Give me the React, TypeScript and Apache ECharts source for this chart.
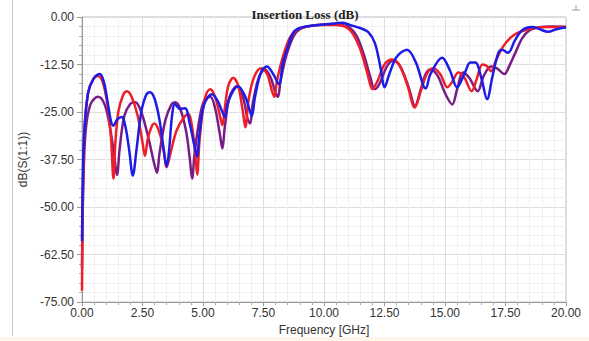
import React, { useEffect, useRef } from "react";
import * as echarts from "echarts";

const xTicks = [0, 2.5, 5, 7.5, 10, 12.5, 15, 17.5, 20];
const yTicks = [0, -12.5, -25, -37.5, -50, -62.5, -75];

const redFreq = [0, 0.03, 0.1, 0.25, 0.45, 0.66, 0.85, 1.05, 1.2, 1.3, 1.38, 1.5, 1.7, 1.86, 2.05, 2.3, 2.5, 2.6, 2.72, 2.9, 3.0, 3.15, 3.35, 3.5, 3.65, 3.9, 4.2, 4.4, 4.55, 4.68, 4.76, 4.85, 5.0, 5.15, 5.3, 5.5, 5.7, 5.8, 5.9, 6.05, 6.25, 6.45, 6.65, 6.75, 6.88, 7.1, 7.4, 7.65, 7.85, 7.95, 8.05, 8.3, 8.6, 8.9, 9.2, 9.8, 10.5, 10.9, 11.2, 11.5, 11.8, 12.0, 12.2, 12.5, 12.8, 13.1, 13.45, 13.75, 14.0, 14.25, 14.5, 14.8, 15.1, 15.3, 15.55, 15.8, 16.1, 16.3, 16.55, 16.75, 16.9, 17.1, 17.4, 17.7, 18.0, 18.4, 18.8, 19.2, 19.6, 20];
const redDb = [-72, -50, -30, -20, -16.5, -15.5, -17, -23, -32, -42.5, -33, -25, -20.5, -19.5, -21, -26, -33, -36.5, -32, -28.5, -28, -29.5, -34, -39.5, -36, -30, -26.5, -25.5, -29, -36, -41.5, -33, -24, -20, -19, -21, -26, -28.5, -24, -18, -16, -18, -25, -29, -22, -16, -13.5, -15, -19.5, -21, -17, -10.5, -5.3, -3.4, -2.6, -2.1, -2.1, -2.6, -4.5, -8.5, -15, -19, -17, -12.5, -11.2, -12.5, -18, -23.8, -19.5, -15, -13.5, -15, -18.5, -17, -14.6, -16, -19.5, -16.5, -12.5, -13, -14.3, -11.5, -7.8, -5.5, -4.2, -3.3, -2.8, -2.6, -2.6, -2.6];

const purpleFreq = [0, 0.05, 0.15, 0.35, 0.66, 0.9, 1.1, 1.3, 1.45, 1.55, 1.75, 2.0, 2.2, 2.45, 2.75, 3.0, 3.1, 3.2, 3.45, 3.7, 3.85, 4.05, 4.3, 4.45, 4.55, 4.65, 4.85, 5.05, 5.3, 5.5, 5.7, 5.8, 5.9, 6.1, 6.4, 6.65, 6.85, 6.95, 7.05, 7.3, 7.56, 7.8, 8.0, 8.1, 8.2, 8.45, 8.75, 9.0, 9.4, 10.0, 10.6, 11.0, 11.35, 11.65, 11.9, 12.1, 12.3, 12.6, 12.85, 13.15, 13.5, 13.76, 14.0, 14.2, 14.4, 14.7, 15.0, 15.3, 15.5, 15.75, 16.0, 16.35, 16.6, 16.9, 17.15, 17.45, 17.65, 17.9, 18.2, 18.5, 18.9, 19.4, 20];
const purpleDb = [-66, -45, -30, -23, -21, -22.5, -27, -35, -41.5, -35, -26, -22.8, -22.4, -25, -32, -39, -41, -36, -27, -23, -22.4, -24, -30, -37, -42.5, -36, -27, -22, -21, -24, -31, -34.6, -29, -21, -18.2, -21, -27, -28, -23, -16, -13.8, -16, -20, -21, -17, -10, -5, -3.2, -2.4, -2.0, -2.1, -2.6, -5, -10, -15.5, -19, -17.5, -13, -11.5, -13, -18.5, -23.4, -19, -15, -13.8, -15.5, -20, -23, -19, -14.6, -16, -19.5, -15.5, -13, -13.5, -15, -13, -9.5, -5.5, -3.5, -2.7, -2.5, -2.6];

const blueFreq = [0, 0.02, 0.08, 0.25, 0.5, 0.74, 0.9, 1.05, 1.2, 1.3, 1.45, 1.65, 1.8, 1.95, 2.1, 2.25, 2.45, 2.65, 2.81, 3.0, 3.2, 3.4, 3.5, 3.6, 3.72, 3.84, 4.05, 4.26, 4.45, 4.65, 4.75, 4.85, 5.05, 5.37, 5.6, 5.8, 5.9, 6.05, 6.45, 6.75, 6.95, 7.02, 7.15, 7.4, 7.64, 7.9, 8.14, 8.3, 8.47, 8.72, 9.0, 9.5, 10.0, 10.4, 10.74, 11.07, 11.49, 11.82, 12.1, 12.35, 12.5, 12.7, 13.0, 13.43, 13.8, 14.1, 14.2, 14.4, 14.88, 15.2, 15.5, 15.8, 16.05, 16.25, 16.5, 16.74, 16.95, 17.2, 17.36, 17.6, 17.9, 18.2, 18.6, 18.9, 19.26, 19.6, 20];
const blueDb = [-59, -48, -32, -20, -16, -15, -17, -22, -27.5, -28.6, -27, -26.3, -29, -35, -41.7, -35, -25, -20.5, -19.8, -21.5, -27, -36, -39.3, -35, -26, -22.9, -24.2, -24, -28, -34, -36.7, -31, -23, -20.3, -22, -25, -26.3, -22, -18.2, -21, -25, -26, -21, -14.5, -13, -15, -17.7, -12, -8.6, -4.2, -2.9, -2.3, -2.0, -1.7, -1.5, -2.1, -2.9, -3.9, -6.8, -13.8, -18.5, -15, -10.5, -8.6, -12, -18, -18.8, -15, -10.7, -14, -18.5, -15, -12, -12, -16, -21.6, -16, -9.5, -8.6, -9.4, -6, -3.4, -2.6, -3.2, -3.9, -3.2, -2.7];

const zip = (xs: number[], ys: number[]) => xs.map((x, i) => [x, ys[i]]);

export default function App() {
  const ref = useRef<HTMLDivElement>(null);
  useEffect(() => {
    if (!ref.current) return;
    const chart = echarts.init(ref.current, null, { renderer: "svg" });
    const labelFont = { fontFamily: "Liberation Sans", fontSize: 12, color: "#333" };
    const mkSeries = (name: string, data: number[][], color: string) => ({
      name,
      type: "line",
      data,
      smooth: 0.35,
      showSymbol: false,
      symbol: "none",
      lineStyle: { color, width: 2.5 },
      clip: true,
    });
    chart.setOption({
      animation: false,
      backgroundColor: "#ffffff",
      title: {
        text: "Insertion Loss (dB)",
        left: 300,
        textAlign: "center",
        top: 3,
        textStyle: { fontFamily: "Liberation Serif", fontWeight: "bold", fontSize: 13, color: "#222" },
      },
      grid: { left: 82, right: 23, top: 17, bottom: 36, show: true, borderColor: "#b8b8b8", borderWidth: 1 },
      xAxis: {
        type: "value",
        min: xTicks[0],
        max: xTicks[xTicks.length - 1],
        interval: 2.5,
        name: "Frequency [GHz]",
        nameLocation: "middle",
        nameGap: 20,
        nameTextStyle: { ...labelFont, fontSize: 12 },
        axisLine: { show: true, onZero: false, lineStyle: { color: "#999" } },
        axisTick: { show: true, length: 4, lineStyle: { color: "#999" } },
        minorTick: { show: true, splitNumber: 5, length: 3, lineStyle: { color: "#aaa" } },
        axisLabel: { ...labelFont, margin: 5, formatter: (v: number) => v.toFixed(2) },
        splitLine: { show: true, lineStyle: { color: "#dedede", width: 1 } },
        minorSplitLine: { show: true, lineStyle: { color: "#f0f0f0", width: 1 } },
      },
      yAxis: {
        type: "value",
        min: yTicks[yTicks.length - 1],
        max: yTicks[0],
        interval: 12.5,
        name: "dB(S(1:1))",
        nameLocation: "middle",
        nameGap: 52,
        nameRotate: 90,
        nameTextStyle: { ...labelFont, fontSize: 12 },
        axisLine: { show: true, onZero: false, lineStyle: { color: "#999" } },
        axisTick: { show: true, length: 5, lineStyle: { color: "#999" } },
        minorTick: { show: true, splitNumber: 5, length: 3, lineStyle: { color: "#aaa" } },
        axisLabel: { ...labelFont, margin: 8, formatter: (v: number) => v.toFixed(2) },
        splitLine: { show: true, lineStyle: { color: "#dedede", width: 1 } },
        minorSplitLine: { show: true, lineStyle: { color: "#f0f0f0", width: 1 } },
      },
      graphic: [
        { type: "line", shape: { x1: 12.5, y1: 0, x2: 12.5, y2: 336 }, style: { stroke: "#c8c8c8", lineWidth: 1 } },
        { type: "rect", shape: { x: 0, y: 337, width: 589, height: 4 }, style: { fill: "#fbf6e8" } },
        { type: "line", shape: { x1: 572, y1: 10, x2: 580, y2: 10 }, style: { stroke: "#999", lineWidth: 1 } },
        { type: "line", shape: { x1: 576, y1: 5, x2: 576, y2: 10 }, style: { stroke: "#999", lineWidth: 1 } },
      ],
      series: [
        mkSeries("S purple", zip(purpleFreq, purpleDb), "#781c86"),
        mkSeries("S red", zip(redFreq, redDb), "#ef1f27"),
        mkSeries("S blue", zip(blueFreq, blueDb), "#1c1ce6"),
      ],
    });
    return () => chart.dispose();
  }, []);
  return <div ref={ref} style={{ width: 589, height: 341, position: "absolute", left: 0, top: 0 }} />;
}
